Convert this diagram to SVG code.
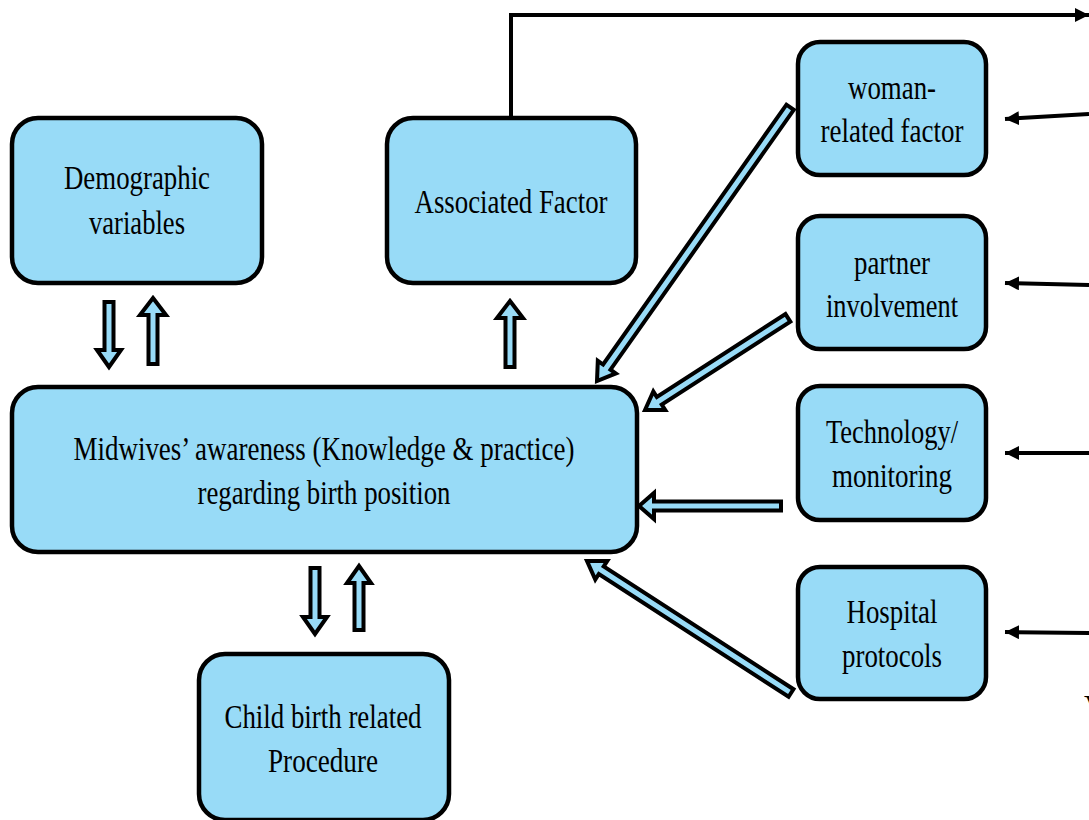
<svg xmlns="http://www.w3.org/2000/svg" width="1089" height="820" viewBox="0 0 1089 820">
<style>
.box{fill:#98DBF7;stroke:#000;stroke-width:4.5}
.t{font-family:"Liberation Serif","Times New Roman",serif;font-size:33px;fill:#000;text-anchor:middle}
.blk{fill:#98DBF7;stroke:#000;stroke-width:4;stroke-linejoin:miter}
.ln{fill:none;stroke:#000;stroke-width:4}
</style>
<defs>
<marker id="ah" markerUnits="userSpaceOnUse" viewBox="0 0 14 14" refX="14" refY="7" markerWidth="14" markerHeight="14" orient="auto">
<path d="M0,0 L14,7 L0,14 Z" fill="#000"/>
</marker>
</defs>
<rect width="1089" height="820" fill="#fff"/>

<g id="demographic">
<rect class="box" x="12" y="118" width="250" height="165" rx="26"/>
<text class="t" x="137" y="189" textLength="146" lengthAdjust="spacingAndGlyphs">Demographic</text>
<text class="t" x="137" y="234" textLength="96" lengthAdjust="spacingAndGlyphs">variables</text>
</g>
<g id="associated">
<rect class="box" x="387" y="118" width="249" height="165" rx="26"/>
<text class="t" x="511" y="213" textLength="193" lengthAdjust="spacingAndGlyphs">Associated Factor</text>
</g>
<g id="midwives">
<rect class="box" x="12" y="387" width="625" height="165" rx="26"/>
<text class="t" x="324" y="460" textLength="501" lengthAdjust="spacingAndGlyphs">Midwives’ awareness (Knowledge &amp; practice)</text>
<text class="t" x="324" y="504" textLength="253" lengthAdjust="spacingAndGlyphs">regarding birth position</text>
</g>
<g id="childbirth">
<rect class="box" x="199" y="654" width="250" height="166" rx="26"/>
<text class="t" x="323" y="728" textLength="197" lengthAdjust="spacingAndGlyphs">Child birth related</text>
<text class="t" x="323" y="772" textLength="110" lengthAdjust="spacingAndGlyphs">Procedure</text>
</g>
<g id="woman">
<rect class="box" x="798" y="42" width="188" height="133" rx="22"/>
<text class="t" x="892" y="99" textLength="88" lengthAdjust="spacingAndGlyphs">woman-</text>
<text class="t" x="892" y="142" textLength="143" lengthAdjust="spacingAndGlyphs">related factor</text>
</g>
<g id="partner">
<rect class="box" x="798" y="216" width="188" height="133" rx="22"/>
<text class="t" x="892" y="274" textLength="76" lengthAdjust="spacingAndGlyphs">partner</text>
<text class="t" x="892" y="317" textLength="132" lengthAdjust="spacingAndGlyphs">involvement</text>
</g>
<g id="technology">
<rect class="box" x="798" y="386" width="188" height="134" rx="22"/>
<text class="t" x="892" y="443" textLength="132" lengthAdjust="spacingAndGlyphs">Technology/</text>
<text class="t" x="892" y="487" textLength="120" lengthAdjust="spacingAndGlyphs">monitoring</text>
</g>
<g id="hospital">
<rect class="box" x="798" y="567" width="188" height="132" rx="22"/>
<text class="t" x="892" y="623" textLength="91" lengthAdjust="spacingAndGlyphs">Hospital</text>
<text class="t" x="892" y="667" textLength="100" lengthAdjust="spacingAndGlyphs">protocols</text>
</g>

<g id="connectors">
<polygon class="blk" transform="translate(109,367) rotate(-90)" points="0,0 17,-12 17,-4.5 65,-4.5 65,4.5 17,4.5 17,12"/>
<polygon class="blk" transform="translate(153,298) rotate(90)" points="0,0 17,-13 17,-4.5 66,-4.5 66,4.5 17,4.5 17,13"/>
<polygon class="blk" transform="translate(510,301) rotate(90)" points="0,0 17,-13 17,-4.5 66,-4.5 66,4.5 17,4.5 17,13"/>
<polygon class="blk" transform="translate(315,634) rotate(-90)" points="0,0 17,-12 17,-4.5 66,-4.5 66,4.5 17,4.5 17,12"/>
<polygon class="blk" transform="translate(359,566) rotate(90)" points="0,0 17,-12 17,-4.5 64,-4.5 64,4.5 17,4.5 17,12"/>
<polygon class="blk" transform="translate(597,381) rotate(-54.8)" points="0,0 17,-11 17,-4.5 335,-4.5 335,4.5 17,4.5 17,11"/>
<polygon class="blk" transform="translate(645,410) rotate(-32.8)" points="0,0 17,-11 17,-4.5 170,-4.5 170,4.5 17,4.5 17,11"/>
<polygon class="blk" transform="translate(639,506)" points="0,0 15,-13 15,-4.5 142,-4.5 142,4.5 15,4.5 15,13"/>
<polygon class="blk" transform="translate(587,561) rotate(32.9)" points="0,0 17,-11 17,-4.5 243,-4.5 243,4.5 17,4.5 17,11"/>

<path class="ln" d="M511,117 V15 H1089" marker-end="url(#ah)"/>
<path class="ln" d="M1089,114 L1005,119" marker-end="url(#ah)"/>
<path class="ln" d="M1089,285 L1005,283" marker-end="url(#ah)"/>
<path class="ln" d="M1089,453 L1005,453" marker-end="url(#ah)"/>
<path class="ln" d="M1089,633 L1005,632" marker-end="url(#ah)"/>
</g>
<text class="t" x="1084" y="718" style="text-anchor:start">V</text>
</svg>
